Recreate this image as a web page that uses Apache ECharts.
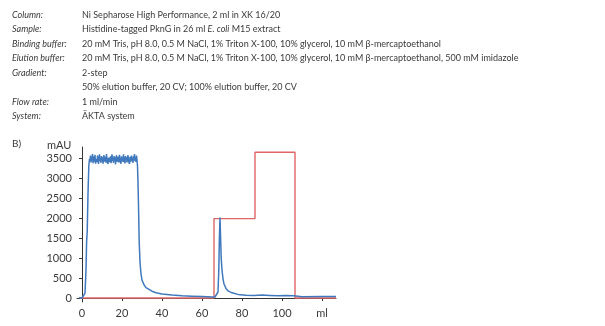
<!DOCTYPE html>
<html>
<head>
<meta charset="utf-8">
<script src="https://cdn.jsdelivr.net/npm/echarts@6/dist/echarts.min.js"></script>
<style>
  html, body { margin: 0; padding: 0; background: #fff; }
  #chart { width: 605px; height: 326px; }
</style>
</head>
<body>
<div id="chart"></div>
<script>
// Run conditions ({i|...} marks italic runs)
const conditionLabels = ['Column:', 'Sample:', 'Binding buffer:', 'Elution buffer:', 'Gradient:', '', 'Flow rate:', 'System:'];
const conditionValues = [
  'Ni Sepharose High Performance, 2 ml in XK 16/20',
  'Histidine-tagged PknG in 26 ml {i|E. coli} M15 extract',
  '20 mM Tris, pH 8.0, 0.5 M NaCl, 1% Triton X-100, 10% glycerol, 10 mM β-mercaptoethanol',
  '20 mM Tris, pH 8.0, 0.5 M NaCl, 1% Triton X-100, 10% glycerol, 10 mM β-mercaptoethanol, 500 mM imidazole',
  '2-step',
  '50% elution buffer, 20 CV; 100% elution buffer, 20 CV',
  '1 ml/min',
  'ÄKTA system'
];

// Tick labels
const xTicks = [0, 20, 40, 60, 80, 100, 120];
const yTicks = [0, 500, 1000, 1500, 2000, 2500, 3000, 3500];

// UV absorbance trace [volume ml, mAU]
const uvRise = [[-1.5, 5], [-1, 0], [-0.5, -5], [0, 0], [0.5, 5], [1, 20], [1.5, 120], [2, 700], [2.3, 1400], [2.6, 1650], [3, 2600], [3.4, 3300], [3.75, 3480]];
const uvPlateau = [
  [4.00, 3420], [4.25, 3560], [4.50, 3390], [4.75, 3510], [5.00, 3450], [5.25, 3600], [5.50, 3370], [5.75, 3480],
  [6.00, 3540], [6.25, 3410], [6.50, 3580], [6.75, 3360], [7.00, 3470], [7.25, 3520], [7.50, 3400], [7.75, 3560],
  [8.00, 3440], [8.25, 3350], [8.50, 3500], [8.75, 3590], [9.00, 3420], [9.25, 3480], [9.50, 3380], [9.75, 3550],
  [10.00, 3460], [10.25, 3520], [10.50, 3360], [10.75, 3490], [11.00, 3570], [11.25, 3410], [11.50, 3450], [11.75, 3530],
  [12.00, 3380], [12.25, 3600], [12.50, 3440], [12.75, 3470], [13.00, 3350], [13.25, 3510], [13.50, 3560], [13.75, 3400],
  [14.00, 3480], [14.25, 3540], [14.50, 3370], [14.75, 3460], [15.00, 3590], [15.25, 3430], [15.50, 3500], [15.75, 3380],
  [16.00, 3550], [16.25, 3450], [16.50, 3520], [16.75, 3340], [17.00, 3480], [17.25, 3570], [17.50, 3410], [17.75, 3460],
  [18.00, 3530], [18.25, 3390], [18.50, 3500], [18.75, 3580], [19.00, 3420], [19.25, 3470], [19.50, 3360], [19.75, 3540],
  [20.00, 3450], [20.25, 3510], [20.50, 3400], [20.75, 3590], [21.00, 3440], [21.25, 3480], [21.50, 3370], [21.75, 3550],
  [22.00, 3460], [22.25, 3520], [22.50, 3390], [22.75, 3500], [23.00, 3570], [23.25, 3430], [23.50, 3460], [23.75, 3350],
  [24.00, 3530], [24.25, 3480], [24.50, 3410], [24.75, 3560], [25.00, 3440], [25.25, 3500], [25.50, 3380], [25.75, 3540],
  [26.00, 3470], [26.25, 3600], [26.50, 3420], [26.75, 3490], [27.00, 3400], [27.25, 3560], [27.50, 3450]
];
const uvTail = [
  [27.75, 3300], [28, 2900], [28.3, 2200], [28.6, 1400], [29, 900], [29.5, 600], [30, 450], [31, 330], [32, 260],
  [33, 220], [35, 170], [37, 130], [40, 100], [45, 75], [50, 55], [55, 45], [60, 35], [65, 25], [66.5, 25],
  [67.5, 40], [68, 150], [68.4, 700], [68.7, 1500], [69, 2010], [69.3, 1500], [69.6, 1000], [70, 700], [70.5, 480],
  [71, 350], [72, 240], [73, 180], [75, 130], [78, 90], [82, 70], [86, 60], [90, 75], [94, 65], [98, 55],
  [102, 60], [106, 55], [106.5, 30], [110, 30], [120, 35], [127, 35]
];
const uvTrace = uvRise.concat(uvPlateau, uvTail);

// Elution buffer step gradient, drawn on the mAU scale [volume ml, level]
const gradientSteps = [[-1, 0], [66, 0], [66, 1985], [86.5, 1985], [86.5, 3645], [106.5, 3645], [106.5, 0], [127, 0]];

const textColor = '#3a3a3a';
const fontFamily = 'Lato, "Noto Sans", sans-serif';
const rowY = [16.5, 31, 45.5, 60, 74.5, 89, 103.5, 118];

const graphics = [];
conditionLabels.forEach((t, i) => {
  if (t) graphics.push({ type: 'text', left: 12, top: rowY[i] - 6,
    style: { text: t, fill: textColor, fontStyle: 'italic', fontSize: 9, fontFamily: fontFamily } });
});
conditionValues.forEach((t, i) => {
  graphics.push({ type: 'text', left: 82, top: rowY[i] - 6,
    style: { text: t, fill: textColor, fontSize: 9, fontFamily: fontFamily,
      rich: { i: { fontStyle: 'italic', fontSize: 9, fontFamily: fontFamily, fill: textColor } } } });
});
graphics.push({ type: 'text', left: 12, top: 139, style: { text: 'B)', fill: textColor, fontSize: 10, fontFamily: fontFamily } });
graphics.push({ type: 'text', left: 47, top: 140, style: { text: 'mAU', fill: textColor, fontSize: 11, fontFamily: fontFamily } });

const chart = echarts.init(document.getElementById('chart'), null, { renderer: 'canvas' });
chart.setOption({
  animation: false,
  backgroundColor: '#fff',
  graphic: graphics,
  grid: { left: 77, right: 269, top: 147, bottom: 24 },
  xAxis: {
    type: 'value', min: -2.5, max: 127,
    axisLine: { lineStyle: { color: '#333', width: 1 } },
    axisTick: { show: true, length: 3, customValues: xTicks, lineStyle: { color: '#333' } },
    axisLabel: { customValues: xTicks, color: textColor, fontSize: 11, fontFamily: fontFamily, margin: 6,
      formatter: v => (v === 120 ? 'ml' : String(v)) },
    splitLine: { show: false }
  },
  yAxis: {
    type: 'value', min: -100, max: 3775,
    axisLine: { show: true, lineStyle: { color: '#333', width: 1 } },
    axisTick: { show: true, length: 3, customValues: yTicks, lineStyle: { color: '#333' } },
    axisLabel: { customValues: yTicks, color: textColor, fontSize: 11, fontFamily: fontFamily, margin: 5,
      formatter: v => String(v) },
    splitLine: { show: false }
  },
  series: [
    {
      name: 'Elution buffer', type: 'line', data: gradientSteps, symbol: 'none',
      lineStyle: { color: '#e06666', width: 1.4 }, z: 2
    },
    {
      name: 'UV', type: 'line', data: uvTrace, symbol: 'none',
      lineStyle: { color: '#3f78bd', width: 1.5 }, z: 3,
      markPoint: {
        symbol: 'none',
        data: [{ coord: [71, 40], value: '1–8' }],
        label: { show: true, formatter: '1–8', color: '#888', fontSize: 6, offset: [0, -2] }
      }
    }
  ]
});
</script>
</body>
</html>
